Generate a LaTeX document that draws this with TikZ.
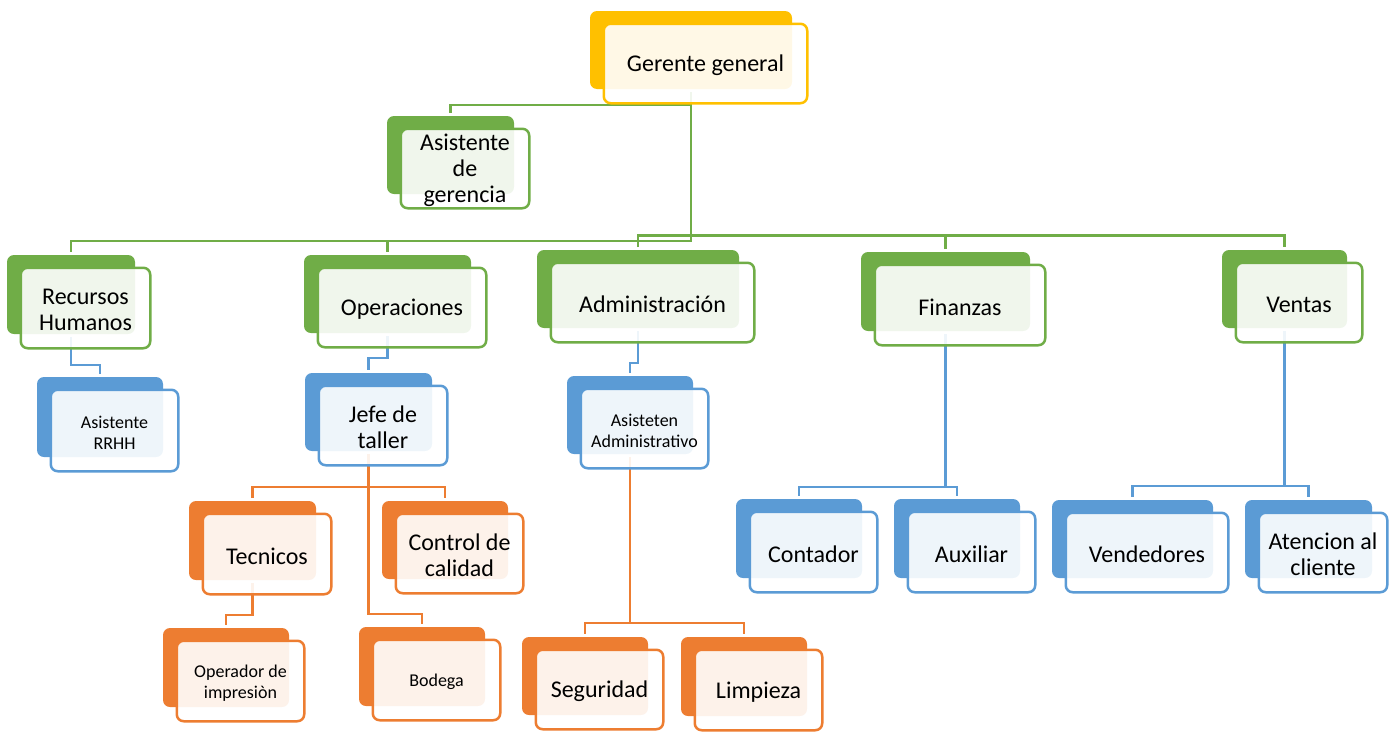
\documentclass[tikz,border=0pt]{standalone}
\usepackage{fontspec}
\setmainfont{Carlito}
\pgfdeclarelayer{lines}
\pgfsetlayers{lines,main}
\definecolor{cgold}{HTML}{FFC000}
\definecolor{cgreen}{HTML}{70AD47}
\definecolor{cblue}{HTML}{5B9BD5}
\definecolor{corange}{HTML}{ED7D31}
\tikzset{
  backbox/.style={rectangle, rounded corners=7, fill=#1, draw=none, inner sep=0, outer sep=3},
  frontbox/.style={rectangle, rounded corners=7, draw=#1, line width=2.5, fill=white,
                   fill opacity=0.9, inner sep=0},
  label text/.style={align=center, text=black, inner sep=0, yshift=-2pt},
  big/.style={font=\fontsize{24}{26}\selectfont},
  small/.style={font=\fontsize{18}{21}\selectfont},
  link/.style={draw=#1, line width=2.7},
}
% name, colour, x1, y1, x2, y2 of the solid back card, text style, text
\newcommand{\orgunit}[8]{%
  \node[backbox=#2, minimum width={#5-#3}, minimum height={#6-#4}] (#1) at ({(#3+#5)/2},{(#4+#6)/2}) {};
  \node[frontbox=#2, minimum width={#5-#3+1.5}, minimum height={#6-#4+1.5}] (#1-f)
       at ({(#3+#5)/2+14.5},{(#4+#6)/2+13.5}) {};
  \node[label text, #7] (#1-t) at (#1-f.center) {#8};
}
\begin{document}
\begin{tikzpicture}[x=1pt, y=-1pt]
\useasboundingbox (0,0) rectangle (1396,731);

% top
\orgunit{gg}{cgold}{590}{11}{792}{89}{big}{Gerente general}
\orgunit{ag}{cgreen}{387}{116}{514}{194}{big}{Asistente\\de\\gerencia}

% departments
\orgunit{rh}{cgreen}{7}{255}{135}{334}{big}{Recursos\\Humanos}
\orgunit{op}{cgreen}{304}{255}{471}{333}{big}{Operaciones}
\orgunit{ad}{cgreen}{537}{250}{739}{328}{big}{Administración}
\orgunit{fi}{cgreen}{861}{252}{1030}{331}{big}{Finanzas}
\orgunit{ve}{cgreen}{1222}{250}{1347}{328}{big}{Ventas}

% second level
\orgunit{ar}{cblue}{37}{377}{163}{457}{small}{Asistente\\RRHH}
\orgunit{jt}{cblue}{305}{373}{432}{451}{big}{Jefe de\\taller}
\orgunit{aa}{cblue}{567}{376}{693}{454}{small}{Asisteten\\Administrativo}
\orgunit{co}{cblue}{736}{499}{862}{578}{big}{Contador}
\orgunit{au}{cblue}{894}{499}{1020}{578}{big}{Auxiliar}
\orgunit{vd}{cblue}{1052}{500}{1213}{578}{big}{Vendedores}
\orgunit{atc}{cblue}{1245}{500}{1372}{578}{big}{Atencion al\\cliente}

% third level
\orgunit{te}{corange}{189}{501}{316}{580}{big}{Tecnicos}
\orgunit{cc}{corange}{382}{501}{508}{579}{big}{Control de\\calidad}
\orgunit{oi}{corange}{163}{628}{289}{707}{small}{Operador de\\impresiòn}
\orgunit{bo}{corange}{359}{627}{485}{706}{small}{Bodega}
\orgunit{se}{corange}{522}{637}{648}{715}{big}{Seguridad}
\orgunit{li}{corange}{681}{637}{807}{716}{big}{Limpieza}

\begin{pgfonlayer}{lines}
  \coordinate (busL) at (0,241);
  \coordinate (busR) at (0,235.5);
  % green links
  \draw[link=cgreen] (gg.south) -- ++(0,13) -| (ag.north);
  \draw[link=cgreen] (gg.south) -- (gg.south |- busL) -| (rh.north);
  \draw[link=cgreen] (gg.south |- busL) -| (op.north);
  \draw[link=cgreen] (ad.north) -- (ad.north |- busR) -| (ve.north);
  \draw[link=cgreen] (fi.north) -- (fi.north |- busR);
  % blue links
  \draw[link=cblue] (rh.south) -- ++(0,28) -| (ar.north);
  \draw[link=cblue] (op.south) -- ++(0,22) -| (jt.north);
  \draw[link=cblue] (ad.south) -- ++(0,32) -| (aa.north);
  \draw[link=cblue] (fi.south) -- ++(0,153) -| (co.north);
  \draw[link=cblue] (fi.south) -- ++(0,153) -| (au.north);
  \draw[link=cblue] (ve.south) -- ++(0,155) -| (vd.north);
  \draw[link=cblue] (ve.south) -- ++(0,155) -| (atc.north);
  % orange links
  \draw[link=corange] (jt.south) -- ++(0,33) -| (te.north);
  \draw[link=corange] (jt.south) -- ++(0,33) -| (cc.north);
  \draw[link=corange] (jt.south) -- ++(0,160) -| (bo.north);
  \draw[link=corange] (te.south) -- ++(0,32) -| (oi.north);
  \draw[link=corange] (aa.south) -- ++(0,166) -| (se.north);
  \draw[link=corange] (aa.south) -- ++(0,166) -| (li.north);
\end{pgfonlayer}
\end{tikzpicture}
\end{document}
